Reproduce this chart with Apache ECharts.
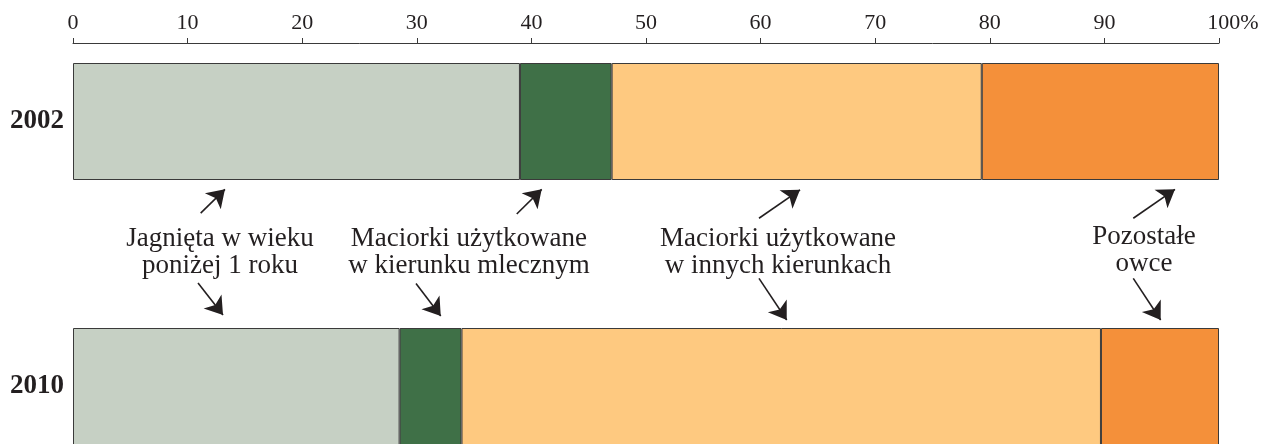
<!DOCTYPE html>
<html>
<head>
<meta charset="utf-8">
<script src="https://cdn.jsdelivr.net/npm/echarts@6/dist/echarts.min.js"></script>
<style>html,body{margin:0;padding:0;background:#fff}#c{width:1269px;height:444px}</style>
</head>
<body>
<div id="c"></div>
<script>
// ---- data ----
const years = ['2002', '2010'];
const seriesNames = [
  'Jagnięta w wieku poniżej 1 roku',
  'Maciorki użytkowane w kierunku mlecznym',
  'Maciorki użytkowane w innych kierunkach',
  'Pozostałe owce'
];
const lambs      = [39.0, 28.5];
const dairyEwes  = [8.0, 5.4];
const otherEwes  = [32.3, 55.8];
const otherSheep = [20.7, 10.3];
const xTicks = [0, 10, 20, 30, 40, 50, 60, 70, 80, 90, 100];
const colors = ['#c6d0c4', '#3f7047', '#fec980', '#f4903a'];

// annotation labels: [x %, position between bars (0 = 2002, 1 = 2010), text]
const noteLabels = [
  [12.83, 0.4925, 'Jagnięta w wieku\nponiżej 1 roku'],
  [34.55, 0.4925, 'Maciorki użytkowane\nw kierunku mlecznym'],
  [61.52, 0.4925, 'Maciorki użytkowane\nw innych kierunkach'],
  [93.46, 0.485, 'Pozostałe\nowce']
];
// annotation arrows: [from, to] in the same data units
const noteArrows = [
  [[11.14, 0.346], [13.26, 0.256]],
  [[10.91, 0.609], [13.09, 0.730]],
  [[38.72, 0.349], [40.90, 0.256]],
  [[29.93, 0.611], [32.09, 0.734]],
  [[59.86, 0.365], [63.44, 0.258]],
  [[59.86, 0.592], [62.28, 0.749]],
  [[92.52, 0.365], [96.16, 0.256]],
  [[92.52, 0.592], [94.91, 0.749]]
];

const font = 'Liberation Serif, Times New Roman, serif';
const ink = '#231f20';
const values = [lambs, dairyEwes, otherEwes, otherSheep];

const chart = echarts.init(document.getElementById('c'), null, {renderer: 'canvas'});
const barSeries = seriesNames.map((n, i) => ({
  name: n,
  type: 'bar',
  stack: 'all',
  barWidth: 117,
  yAxisIndex: 0,
  data: values[i],
  itemStyle: {color: colors[i], borderColor: '#3a3a3a', borderWidth: 1},
  silent: true
}));

chart.setOption({
  animation: false,
  grid: {left: 73, right: 50, top: 121.5, bottom: 57.5, containLabel: false},
  xAxis: {
    type: 'value',
    position: 'top',
    offset: 78.5,
    min: 0, max: 100, interval: 10,
    axisLine: {show: true, onZero: false, lineStyle: {color: '#3a3a3a', width: 1}},
    axisTick: {show: true, length: 5, lineStyle: {color: '#3a3a3a', width: 1}},
    splitLine: {show: false},
    axisLabel: {
      margin: 9,
      fontFamily: font, fontSize: 22, color: ink,
      formatter: v => xTicks.indexOf(v) < 0 ? '' : (v === 100 ? '{p|100%}' : String(v)),
      rich: {p: {fontFamily: font, fontSize: 22, color: ink, padding: [0, 0, 0, 28]}}
    }
  },
  yAxis: [{
    type: 'category',
    data: years,
    inverse: true,
    boundaryGap: false,
    axisLine: {show: false},
    axisTick: {show: false},
    splitLine: {show: false},
    axisLabel: {margin: 9, fontFamily: font, fontSize: 27, fontWeight: 'bold', color: ink, padding: [8, 0, 0, 0]}
  }, {
    type: 'value',
    min: 0, max: 1,
    inverse: true,
    show: false,
    splitLine: {show: false}
  }],
  series: barSeries.concat([
    {
      type: 'lines',
      coordinateSystem: 'cartesian2d',
      xAxisIndex: 0, yAxisIndex: 1,
      symbol: ['none', 'arrow'],
      symbolSize: 17,
      lineStyle: {color: ink, width: 1.6, opacity: 1, curveness: 0},
      silent: true,
      data: noteArrows.map(a => ({coords: a}))
    },
    {
      type: 'scatter',
      xAxisIndex: 0, yAxisIndex: 1,
      symbolSize: 1,
      itemStyle: {color: 'rgba(0,0,0,0)', opacity: 1},
      silent: true,
      label: {
        show: true, position: 'inside', formatter: '{b}', opacity: 1,
        fontFamily: font, fontSize: 27, lineHeight: 27, color: ink, align: 'center'
      },
      data: noteLabels.map(d => ({name: d[2], value: [d[0], d[1]]}))
    }
  ])
});
</script>
</body>
</html>
